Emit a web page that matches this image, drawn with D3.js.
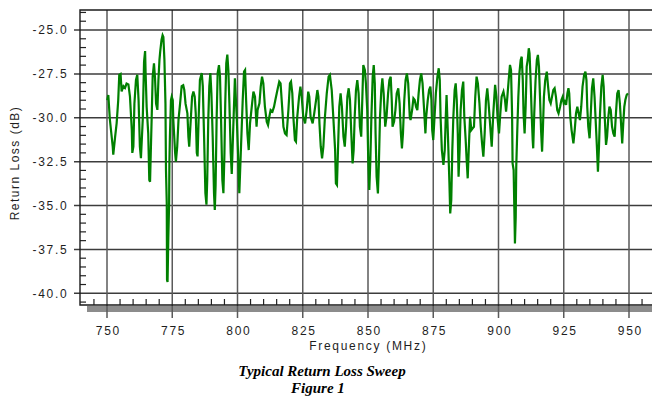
<!DOCTYPE html>
<html>
<head>
<meta charset="utf-8">
<script src="https://cdn.jsdelivr.net/npm/d3@7"></script>
<style>
	body { margin: 0; background: #fff; }
	svg { display: block; }
	text { font-family: "Liberation Sans", Arial, sans-serif; }
</style>
</head>
<body>
<svg id="chart" width="652" height="400"></svg>
<script>
// sweep
const freqMHz = [
	750.1, 750.5, 751.1, 752.2, 752.4, 753.1, 753.7, 754.3, 754.7, 755.2,
	755.6, 756.3, 756.9, 757.5, 758.2, 758.8, 759.5, 759.7, 760.1, 760.5,
	761.1, 761.6, 762.1, 762.6, 763.0, 763.7, 764.2, 764.6, 764.8, 765.2,
	765.8, 766.2, 766.5, 766.7, 767.1, 767.5, 768.0, 768.4, 768.8, 769.3,
	769.7, 770.1, 770.4, 770.9, 771.3, 771.6, 772.0, 772.4, 772.6, 772.9,
	773.0, 773.2, 773.5, 773.8, 773.9, 774.1, 774.5, 774.8, 775.2, 775.4,
	776.1, 776.4, 776.9, 777.4, 778.0, 778.6, 779.2, 779.6, 780.1, 780.8,
	781.2, 781.5, 782.1, 782.6, 783.1, 783.6, 784.0, 784.4, 784.7, 785.1,
	785.6, 786.3, 786.7, 787.2, 787.7, 788.1, 788.4, 788.8, 789.2, 789.6,
	790.0, 790.5, 791.0, 791.3, 791.6, 792.0, 792.4, 792.9, 793.3, 793.7,
	794.2, 794.6, 795.0, 795.3, 795.7, 796.1, 796.5, 796.9, 797.4,
	797.8, 799.0, 799.7, 800.3, 800.7, 801.3, 802.0, 802.5, 802.9, 803.3,
	803.8, 804.3, 804.8, 805.6, 806.1, 806.7, 807.3, 807.7, 808.4, 808.9,
	809.4, 809.9, 810.5, 811.2, 811.7, 812.2, 812.7, 813.4, 814.0, 814.5,
	815.3, 816.0, 816.5, 817.1, 817.6, 818.2, 818.8, 819.5, 820.1, 820.5,
	821.0, 821.4, 822.0, 822.4, 822.9, 823.6, 824.1, 824.6, 825.2, 825.9,
	826.5, 827.1, 827.5, 828.0, 828.8, 829.4, 830.1, 830.6, 831.0, 831.4,
	831.9, 832.4, 832.9, 833.5, 834.2, 834.9, 835.4, 836.1, 836.7, 837.4,
	837.7, 838.1, 838.5, 839.0, 839.5, 840.0, 840.6, 841.1, 841.6, 842.1,
	842.6, 843.1, 843.6, 844.1, 844.5, 844.9, 845.4, 845.9, 846.4, 846.9,
	847.4,
	848.2, 848.8, 849.2, 849.7, 850.1, 850.5, 850.9, 851.3, 851.8, 852.2,
	852.6, 852.9, 853.3, 853.8, 854.2, 854.6, 855.1, 855.5, 856.0, 856.6,
	857.1, 857.7, 858.2, 858.7, 859.1, 859.4, 860.0, 860.5, 861.0, 861.6,
	862.1, 862.6, 863.0, 863.4, 863.9, 864.4, 864.9, 865.4, 866.0, 866.3,
	866.9, 867.4, 867.9, 868.4, 868.9, 869.4, 869.9, 870.4, 870.9, 871.5,
	872.0, 872.3, 872.9, 873.4, 873.9, 874.3, 874.6, 875.0, 875.5, 876.0,
	876.6, 877.1, 877.5, 877.8, 878.3, 878.9, 879.4, 879.8, 880.1, 880.6,
	881.2, 881.5, 881.9, 882.3, 882.7, 883.2, 883.6, 884.0, 884.4, 884.7,
	885.1, 885.5, 886.0, 886.5, 886.9, 887.4, 887.8, 888.2, 888.6, 889.1,
	889.6, 890.1, 890.6, 891.1, 891.6, 892.1, 892.7, 893.2, 893.7, 894.2,
	894.7, 895.2, 895.7, 896.2,
	897.4, 898.0, 898.7, 899.2, 899.7, 900.2, 900.7, 901.2, 901.9, 902.5,
	902.9, 903.4, 903.9, 904.4, 904.8, 905.2, 905.4, 905.8, 906.1, 906.3,
	906.6, 906.8, 907.2, 907.6, 908.0, 908.5, 908.9, 909.3, 909.6, 910.0,
	910.4, 910.8, 911.2, 911.6, 911.9, 912.3, 912.7, 913.1, 913.3, 913.7,
	914.2, 914.7, 915.1, 915.5, 915.9, 916.3, 916.7, 917.0, 917.4, 917.9,
	918.5, 919.0, 919.5, 920.0, 920.5, 921.0, 921.5, 922.0, 922.5, 923.0,
	923.6, 924.1, 924.6, 925.0, 925.4, 925.9, 926.4, 926.8, 927.1, 927.5,
	928.0, 928.7, 929.2, 929.7, 930.2, 930.7, 931.2, 931.7, 932.2, 932.8,
	933.3, 933.7, 934.0, 934.4, 934.9, 935.3, 935.8, 936.3, 936.8, 937.4,
	937.7, 938.1, 938.5, 938.9, 939.4, 939.9, 940.3, 940.7, 941.2, 941.6,
	942.1, 942.5, 943.0, 943.5, 944.0, 944.5, 945.0, 945.5, 946.0, 946.5,
	947.1, 947.4, 947.8, 948.2, 948.6, 949.1, 949.6
]

const returnLossDb = [
	-29.0, -28.7, -30.1, -31.65, -32.1, -31.1, -30.3, -29.0, -27.55, -27.5,
	-28.5, -28.2, -28.3, -28.05, -28.1, -28.8, -30.7, -32.0, -31.65, -29.2,
	-27.85, -27.55, -29.0, -31.65, -32.3, -30.1, -26.8, -26.2, -27.5, -29.4,
	-30.9, -33.55, -33.65, -32.4, -30.1, -27.65, -26.9, -27.75, -29.2, -29.55,
	-27.85, -26.7, -26.2, -25.55, -25.3, -25.4, -26.7, -29.2, -33.0, -34.9,
	-39.25, -39.35, -36.8, -34.9, -32.6, -31.1, -29.0, -28.8, -29.0, -30.1,
	-32.0, -32.5, -31.65, -30.1, -29.2, -28.2, -28.15, -28.4, -29.2, -29.75,
	-31.1, -31.65, -30.1, -28.8, -28.5, -28.8, -29.75, -32.0, -32.2, -30.1,
	-27.85, -27.45, -28.2, -31.1, -34.3, -34.95, -33.55, -30.1, -28.2, -27.45,
	-28.6, -31.1, -34.3, -35.25, -33.9, -30.1, -27.45, -27.0, -27.65, -30.1,
	-33.55, -34.3, -32.0, -29.2, -26.9, -26.4, -27.3, -29.2, -32.0,
	-33.2, -27.75, -29.94, -32.41, -34.3, -31.84, -28.99, -27.37, -27.28, -28.99,
	-30.89, -31.84, -30.32, -29.18, -28.51, -28.8, -30.51, -29.56, -29.18, -28.23,
	-27.66, -28.04, -29.37, -30.22, -30.41, -29.94, -29.56, -29.65, -29.37, -28.99,
	-28.42, -27.94, -28.04, -29.37, -30.51, -30.89, -30.98, -29.56, -28.04, -27.94,
	-28.61, -29.94, -31.27, -31.36, -29.94, -28.8, -28.23, -28.8, -29.94, -30.32,
	-29.56, -28.51, -28.8, -29.94, -30.32, -29.75, -28.99, -28.42, -28.8, -30.32,
	-31.65, -32.31, -31.65, -29.94, -28.61, -27.66, -27.56, -28.42, -29.94, -31.84,
	-33.74, -33.83, -31.84, -29.37, -28.61, -29.37, -31.08, -31.65, -30.51, -28.8,
	-28.32, -28.99, -30.89, -32.6, -31.84, -29.94, -28.42, -27.85, -28.61, -30.51,
	-31.08,
	-27.0, -27.28, -28.04, -29.56, -32.41, -34.12, -32.41, -29.94, -27.66, -27.0,
	-28.04, -30.89, -33.36, -34.31, -32.41, -29.94, -28.42, -27.75, -28.61, -30.51,
	-29.94, -28.61, -27.85, -27.66, -28.99, -30.51, -30.22, -29.56, -28.61, -28.32,
	-29.18, -30.89, -31.74, -30.89, -28.99, -27.85, -27.47, -28.04, -29.94, -30.13,
	-29.56, -28.89, -28.99, -29.37, -29.56, -28.61, -27.85, -27.47, -28.04, -29.56,
	-30.89, -29.94, -28.99, -28.42, -28.23, -28.99, -30.7, -31.27, -29.94, -28.61,
	-27.66, -27.18, -27.85, -29.94, -31.84, -32.69, -31.84, -29.94, -28.7, -30.89,
	-33.74, -35.45, -34.69, -31.84, -29.94, -28.42, -28.04, -28.99, -30.89, -33.36,
	-31.84, -29.56, -28.42, -27.94, -29.94, -31.2, -32.4, -33.45, -31.84, -29.94,
	-30.7, -30.6, -30.51, -28.8, -27.66, -28.04, -29.18, -30.51, -31.46, -32.22,
	-30.89, -28.99, -28.32, -29.18,
	-31.65, -29.75, -28.13, -28.8, -30.13, -30.89, -29.75, -28.8, -28.51, -28.99,
	-29.65, -28.8, -27.85, -26.99, -27.28, -29.75, -32.6, -32.98, -35.45, -37.16,
	-35.64, -32.79, -30.7, -28.8, -27.47, -26.71, -26.52, -27.85, -29.75, -30.89,
	-29.37, -27.09, -26.71, -26.04, -26.33, -27.85, -29.75, -31.27, -31.74, -29.75,
	-27.85, -26.71, -26.42, -27.09, -28.8, -30.7, -31.93, -30.7, -28.8, -27.85,
	-27.37, -28.23, -28.99, -29.18, -28.8, -28.42, -28.32, -28.8, -29.56, -29.75,
	-29.37, -28.99, -28.8, -29.18, -29.08, -29.27, -28.61, -28.32, -28.61, -29.94,
	-30.7, -31.46, -30.7, -29.75, -29.37, -29.75, -30.13, -29.37, -28.23, -27.56,
	-27.37, -27.85, -29.37, -30.51, -31.17, -29.94, -28.32, -27.75, -28.8, -30.7,
	-31.65, -33.07, -31.65, -29.75, -28.23, -27.56, -28.23, -29.94, -31.55, -31.08,
	-29.94, -29.37, -29.56, -30.51, -30.89, -31.08, -29.75, -28.61, -28.42, -29.18,
	-30.7, -31.46, -30.32, -29.37, -28.99, -28.7, -28.61
]

const xTicks = [750, 775, 800, 825, 850, 875, 900, 925, 950]
const yTicks = [-25, -27.5, -30, -32.5, -35, -37.5, -40]
const xTitle = "Frequency (MHz)"
const yTitle = "Return Loss (dB)"
const caption = ["Typical Return Loss Sweep", "Figure 1"]

const svg = d3.select('#chart')
const frame = {left: 80, top: 10, right: 660, bottom: 305}

const x = d3.scaleLinear().domain([750, 950]).range([107, 629])
const y = d3.scaleLinear().domain([-25, -40]).range([30, 293.3])

// minor ticks every 5 MHz / 0.5 dB, skipping the major ones
const xMinor = d3.range(745, 960, 5).filter(d => d % 25 != 0)
const yMinor = d3.range(-24, -40.6, -0.5).filter(d => Math.abs(d % 2.5) > 0.01)

// grey shadow strip under the bottom axis
svg.append('rect')
	.attr('x', 87).attr('y', 306)
	.attr('width', frame.right - 87).attr('height', 6)
	.attr('fill', '#8c8c8c')

// grid
svg.append('g').selectAll('line').data(yTicks).join('line')
	.attr('x1', 74).attr('x2', frame.right)
	.attr('y1', d => y(d)).attr('y2', d => y(d))
	.attr('stroke', '#3c3c3c').attr('stroke-width', 1.5)

svg.append('g').selectAll('line').data(xTicks).join('line')
	.attr('x1', d => x(d)).attr('x2', d => x(d))
	.attr('y1', frame.top).attr('y2', 318)
	.attr('stroke', '#5a5a5a').attr('stroke-width', 1.5)

svg.append('g').selectAll('line').data(yMinor).join('line')
	.attr('x1', frame.left).attr('x2', frame.left + 6)
	.attr('y1', d => y(d)).attr('y2', d => y(d))
	.attr('stroke', '#222').attr('stroke-width', 1.2)

svg.append('g').selectAll('line').data(xMinor).join('line')
	.attr('x1', d => x(d)).attr('x2', d => x(d))
	.attr('y1', frame.bottom - 6).attr('y2', frame.bottom)
	.attr('stroke', '#222').attr('stroke-width', 1.2)

// frame (right side runs off the page)
svg.append('path')
	.attr('d', `M${frame.right},${frame.top}H${frame.left}V${frame.bottom}H${frame.right}`)
	.attr('fill', 'none').attr('stroke', '#1a1a1a').attr('stroke-width', 1.4)

// trace
const line = d3.line()
	.x((d, i) => x(freqMHz[i]))
	.y(d => y(d))

svg.append('path')
	.datum(returnLossDb)
	.attr('d', line)
	.attr('fill', 'none')
	.attr('stroke', '#008000')
	.attr('stroke-width', 2.2)

// tick labels
const yAxis = d3.axisLeft(y).tickValues(yTicks).tickFormat(d => d.toFixed(1)).tickSize(0).tickPadding(11.6)
const xAxis = d3.axisBottom(x).tickValues(xTicks).tickFormat(d => d).tickSize(0).tickPadding(21.5)

const styleAxis = g => {
	g.select('.domain').remove()
	g.attr('font-family', null).attr('font-size', null)
	g.selectAll('text')
		.attr('font-size', 12)
		.attr('letter-spacing', 1.7)
		.attr('fill', '#1e1e1e')
}

svg.append('g').attr('transform', `translate(${frame.left},0)`).call(yAxis).call(styleAxis)
svg.append('g').attr('transform', `translate(0,${frame.bottom})`).call(xAxis).call(styleAxis)
	.selectAll('text').attr('dx', 0.85)

// titles
svg.append('text')
	.attr('x', 368.3).attr('y', 350)
	.attr('text-anchor', 'middle')
	.attr('font-size', 12).attr('letter-spacing', 1.7).attr('fill', '#1e1e1e')
	.text(xTitle)

svg.append('text')
	.attr('transform', 'translate(18.5,163) rotate(-90)')
	.attr('text-anchor', 'middle')
	.attr('font-size', 12).attr('letter-spacing', 1.5).attr('fill', '#1e1e1e')
	.text(yTitle)

svg.append('g').selectAll('text').data(caption).join('text')
	.attr('x', (d, i) => i == 0 ? 322 : 318)
	.attr('y', (d, i) => 376 + i * 17)
	.attr('text-anchor', 'middle')
	.style('font-family', '"Liberation Serif", "Times New Roman", serif')
	.attr('font-size', 15).attr('font-weight', 'bold').attr('font-style', 'italic')
	.attr('fill', '#000')
	.text(d => d)
</script>
</body>
</html>
